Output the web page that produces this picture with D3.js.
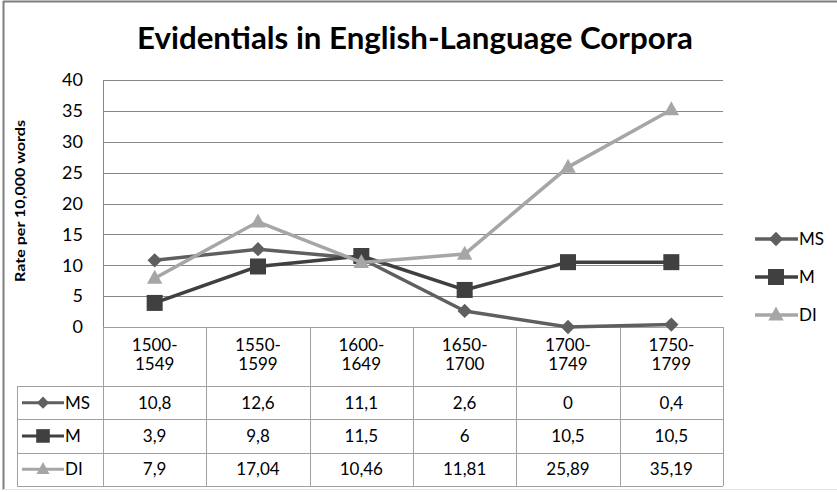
<!DOCTYPE html>
<html><head><meta charset="utf-8">
<script src="https://cdn.jsdelivr.net/npm/d3@7"></script>
<style>body{margin:0;background:#fff}svg{display:block;font-family:Lato,"Open Sans",sans-serif}</style>
</head><body><svg id="c" width="837" height="492"></svg>
<script>
const categories = [["1500-","1549"],["1550-","1599"],["1600-","1649"],["1650-","1700"],["1700-","1749"],["1750-","1799"]];
const seriesNames = ["MS","M","DI"];
const msValues = [10.8,12.6,11.1,2.6,0,0.4];
const mValues = [3.9,9.8,11.5,6,10.5,10.5];
const diValues = [7.9,17.04,10.46,11.81,25.89,35.19];
const tableLabels = [["10,8","12,6","11,1","2,6","0","0,4"],["3,9","9,8","11,5","6","10,5","10,5"],["7,9","17,04","10,46","11,81","25,89","35,19"]];
const yTicks = [0,5,10,15,20,25,30,35,40];
const colors = {MS:"#5f5f5f", M:"#404040", DI:"#a6a6a6"};
const markers = {MS:"diamond", M:"square", DI:"triangle"};
const seriesValues = {MS:msValues, M:mValues, DI:diValues};

const svg = d3.select("#c");
svg.append("line").attr("x1",3).attr("x2",837).attr("y1",1.5).attr("y2",1.5).attr("stroke","#7f7f7f").attr("stroke-width",2);
svg.append("line").attr("x1",3.5).attr("x2",3.5).attr("y1",1).attr("y2",490).attr("stroke","#7f7f7f").attr("stroke-width",2);
svg.append("line").attr("x1",3).attr("x2",837).attr("y1",489.5).attr("y2",489.5).attr("stroke","#e4e4e4").attr("stroke-width",1);

const L = 103, R = 723, T = 80, B = 327;
const x = d3.scaleBand().domain(d3.range(categories.length)).range([L,R]);
const y = d3.scaleLinear().domain([0,40]).range([B,T]);
const FS = 17;

svg.append("text").attr("x",415).attr("y",49).attr("text-anchor","middle")
  .attr("font-size",31).attr("font-weight","bold").attr("fill","#000")
  .attr("textLength",556).attr("lengthAdjust","spacingAndGlyphs")
  .text("Evidentials in English-Language Corpora");

svg.append("g").selectAll("line").data(yTicks).join("line")
  .attr("x1",L).attr("x2",R).attr("y1",d=>Math.round(y(d))+0.5).attr("y2",d=>Math.round(y(d))+0.5)
  .attr("stroke","#878787").attr("stroke-width",1);
svg.append("line").attr("x1",L+0.5).attr("x2",L+0.5).attr("y1",T).attr("y2",B).attr("stroke","#878787");
const yAxis = d3.axisLeft(y).tickValues(yTicks).tickSize(0).tickPadding(20);
const ga = svg.append("g").attr("transform",`translate(${L},0)`).call(yAxis);
ga.select(".domain").remove();
ga.selectAll("text").attr("font-size",FS+1).attr("fill","#000").attr("font-family","Lato,'Open Sans',sans-serif");

svg.append("text").attr("transform","translate(25,201) rotate(-90)").attr("text-anchor","middle")
  .attr("font-size",13.5).attr("font-weight","bold")
  .attr("textLength",162).attr("lengthAdjust","spacingAndGlyphs").text("Rate per 10,000 words");

const tb = svg.append("g");
const hdrB = 386, rowH = 33.3;
const rowsY = [hdrB, hdrB+rowH, hdrB+2*rowH, hdrB+3*rowH];
const tblStroke = "#a0a0a0";
tb.append("line").attr("x1",L).attr("x2",R).attr("y1",B+0.5).attr("y2",B+0.5).attr("stroke",tblStroke);
rowsY.forEach(ry=>tb.append("line").attr("x1",17).attr("x2",R).attr("y1",Math.round(ry)+0.5).attr("y2",Math.round(ry)+0.5).attr("stroke",tblStroke));
d3.range(categories.length+1).forEach(i=>{
  const xx = i<categories.length ? x(i) : R;
  tb.append("line").attr("x1",Math.round(xx)+0.5).attr("x2",Math.round(xx)+0.5).attr("y1",B).attr("y2",rowsY[3]).attr("stroke",tblStroke);
});
tb.append("line").attr("x1",17.5).attr("x2",17.5).attr("y1",hdrB).attr("y2",rowsY[3]).attr("stroke",tblStroke);
categories.forEach((c,i)=>{
  const cx = x(i)+x.bandwidth()/2;
  tb.append("text").attr("x",cx).attr("y",351).attr("text-anchor","middle").attr("font-size",FS).text(c[0]);
  tb.append("text").attr("x",cx).attr("y",370).attr("text-anchor","middle").attr("font-size",FS).text(c[1]);
});

function drawMarker(g, type, cx, cy, color, s){
  if(type==="diamond"){
    g.append("path").attr("d",`M${cx},${cy-s*0.55}L${cx+s*0.55},${cy}L${cx},${cy+s*0.55}L${cx-s*0.55},${cy}Z`).attr("fill",color);
  } else if(type==="square"){
    g.append("rect").attr("x",cx-s/2).attr("y",cy-s/2).attr("width",s).attr("height",s).attr("fill",color);
  } else {
    g.append("path").attr("d",`M${cx},${cy-s*0.6}L${cx+s*0.55},${cy+s*0.4}L${cx-s*0.55},${cy+s*0.4}Z`).attr("fill",color);
  }
}
const mSize = {MS:13, M:16, DI:14};

seriesNames.forEach((n,r)=>{
  const cy = (rowsY[r]+rowsY[r+1])/2;
  const g = tb.append("g");
  g.append("line").attr("x1",22).attr("x2",64).attr("y1",cy).attr("y2",cy).attr("stroke",colors[n]).attr("stroke-width",3);
  drawMarker(g, markers[n], 43, cy, colors[n], mSize[n]*0.85);
  g.append("text").attr("x",65).attr("y",cy+6).attr("font-size",FS).text(n);
  tableLabels[r].forEach((t,i)=>{
    g.append("text").attr("x",x(i)+x.bandwidth()/2).attr("y",cy+6).attr("text-anchor","middle").attr("font-size",FS).text(t);
  });
});

const line = d3.line().x((d,i)=>x(i)+x.bandwidth()/2).y(d=>y(d));
["MS","M","DI"].forEach(n=>{
  const g = svg.append("g");
  g.append("path").datum(seriesValues[n]).attr("d",line).attr("fill","none").attr("stroke",colors[n]).attr("stroke-width",3.5).attr("stroke-linejoin","round");
  seriesValues[n].forEach((v,i)=>drawMarker(g, markers[n], x(i)+x.bandwidth()/2, y(v), colors[n], mSize[n]));
});

const legY = [239, 277, 315];
seriesNames.forEach((n,k)=>{
  const g = svg.append("g");
  g.append("line").attr("x1",755).attr("x2",798).attr("y1",legY[k]).attr("y2",legY[k]).attr("stroke",colors[n]).attr("stroke-width",3.5);
  drawMarker(g, markers[n], 776, legY[k], colors[n], mSize[n]);
  g.append("text").attr("x",799).attr("y",legY[k]+6).attr("font-size",FS).text(n);
});
</script></body></html>
